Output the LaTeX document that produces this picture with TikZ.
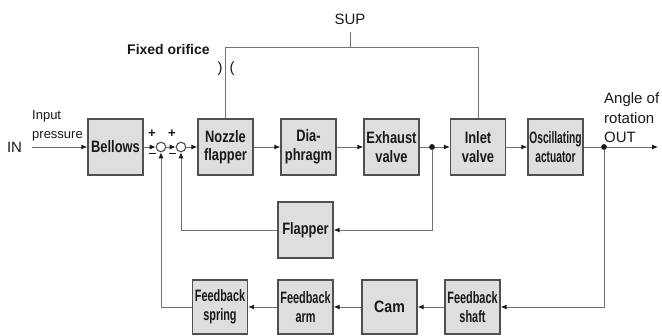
\documentclass[tikz,border=0pt]{standalone}
\usepackage{fontspec}
\setmainfont{Liberation Sans}
\newfontfamily\bxA[FakeStretch=0.78]{Liberation Sans Bold}
\newfontfamily\bxB[FakeStretch=0.66]{Liberation Sans Bold}
\newfontfamily\bxC[FakeStretch=0.62]{Liberation Sans Bold}
\newfontfamily\bxD[FakeStretch=0.86]{Liberation Sans Bold}
\usetikzlibrary{arrows.meta}
\definecolor{boxfill}{RGB}{222,222,222}
\definecolor{boxline}{RGB}{80,80,80}
\definecolor{wire}{RGB}{115,115,115}
\definecolor{ink}{RGB}{25,25,25}
\begin{document}
\begin{tikzpicture}[x=1pt,y=-1pt,
  blk/.style={draw=boxline, line width=1.3pt, fill=boxfill, minimum width=55pt,
    minimum height=56pt, inner sep=0pt, align=center, text=ink},
  fA/.style={font=\bxA\fontsize{16.5}{18.5}\selectfont},
  fB/.style={font=\bxB\fontsize{16.5}{18.5}\selectfont},
  fC/.style={font=\bxC\fontsize{16.5}{18.5}\selectfont},
  fD/.style={font=\bxD\fontsize{16.5}{18.5}\selectfont},
  sumj/.style={circle, draw=boxline, line width=1.1pt, fill=white, minimum size=9.5pt, inner sep=0pt},
  wireln/.style={draw=wire, line width=0.9pt},
  arr/.style={wireln, -{Latex[length=6pt,width=5pt,color=ink]}},
  dotj/.style={circle, fill=ink, minimum size=5.5pt, inner sep=0pt},
  lbl/.style={text=ink, inner sep=0pt, font=\fontsize{15}{19.5}\selectfont},
  sgn/.style={text=ink, inner sep=0pt, font=\bfseries\fontsize{13}{13}\selectfont}
]
\useasboundingbox (0,0) rectangle (662,336);

% main row
\node[blk,fA] (bel) at (115.5,147) {Bellows};
\node[blk,fA] (noz) at (225.5,147) {Nozzle\\flapper};
\node[blk,fA] (dia) at (308.5,147) {Dia-\\phragm};
\node[blk,fA] (exh) at (391.5,147) {Exhaust\\valve};
\node[blk,fA] (inl) at (478,147) {Inlet\\valve};
\node[blk,fC] (osc) at (555.5,147) {Oscillating\\actuator};

% flapper
\node[blk,fA] (flp) at (305.5,230) {Flapper};

% bottom row
\node[blk,fB,minimum height=54pt] (fsp) at (220,307) {Feedback\\spring};
\node[blk,fB,minimum height=54pt] (farm) at (305.5,307) {Feedback\\arm};
\node[blk,fD,minimum height=54pt] (cam) at (389.5,307) {Cam};
\node[blk,fB,minimum height=54pt] (fsh) at (472.5,307) {Feedback\\shaft};

% summing junctions
\node[sumj] (s1) at (161,147) {};
\node[sumj] (s2) at (181,147) {};
\node[sgn] (p1) at (152,134) {+};
\node[sgn] (p2) at (172,134) {+};
\node[sgn] (m1) at (152,153.5) {\rule{7pt}{1.4pt}};
\node[sgn] (m2) at (172,153.5) {\rule{7pt}{1.4pt}};

% junction dots
\node[dotj] (dA) at (432,147) {};
\node[dotj] (dB) at (604,147) {};
\coordinate (outE) at (658,147);
\coordinate (inS) at (32,147);

% labels
\node[lbl, anchor=center] (in) at (14.5,147) {IN};
\node[lbl, anchor=south west, align=left, font=\fontsize{13}{19}\selectfont] (ip) at (32,141) {Input\\pressure};
\node[lbl, anchor=south west, align=left] (ang) at (604,143) {Angle of\\rotation\\OUT};
\node[lbl, anchor=base] (sup) at (350,25) {SUP};
\node[lbl, anchor=base west, font=\bfseries\fontsize{14}{14}\selectfont] (fo) at (127,55) {Fixed orifice};
\node[lbl] (or1) at (220,69) {)};
\node[lbl] (or2) at (232,69) {(};
\coordinate (supT) at (350,32);
\coordinate (supJ) at (350,47);

% supply lines
\draw[wireln] (supT) -- (supJ);
\draw[wireln] (noz.north) -- (noz.north |- supJ) -- (inl.north |- supJ) -- (inl.north);

% forward path
\draw[arr] (inS) -- (bel.west);
\draw[arr] (bel.east) -- (s1.west);
\draw[arr] (s1.east) -- (s2.west);
\draw[arr] (s2.east) -- (noz.west);
\draw[arr] (noz.east) -- (dia.west);
\draw[arr] (dia.east) -- (exh.west);
\draw[wireln] (exh.east) -- (dA.center);
\draw[arr] (dA.center) -- (inl.west);
\draw[arr] (inl.east) -- (osc.west);
\draw[wireln] (osc.east) -- (dB.center);
\draw[arr] (dB.center) -- (outE);

% inner feedback
\draw[arr] (dA.center) |- (flp.east);
\draw[arr] (flp.west) -| (s2.south);

% outer feedback
\draw[arr] (dB.center) |- (fsh.east);
\draw[arr] (fsh.west) -- (cam.east);
\draw[arr] (cam.west) -- (farm.east);
\draw[arr] (farm.west) -- (fsp.east);
\draw[arr] (fsp.west) -| (s1.south);

% redraw dots on top
\node[dotj] at (dA) {};
\node[dotj] at (dB) {};
\end{tikzpicture}
\end{document}
